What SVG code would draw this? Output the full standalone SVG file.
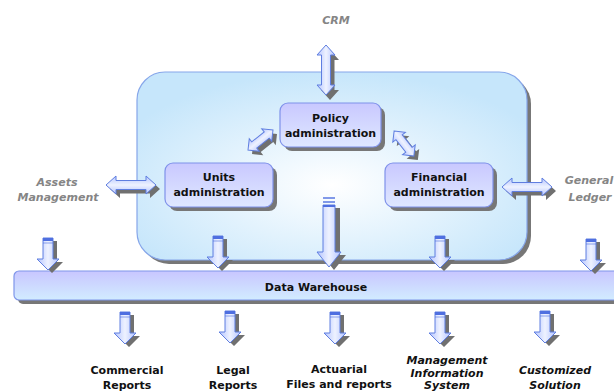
<svg xmlns="http://www.w3.org/2000/svg" xmlns:xlink="http://www.w3.org/1999/xlink" width="614" height="392" viewBox="0 0 614 392">
<style>
.bg{fill:#ffffff}
.shd{fill:#777777}
.box{fill:url(#boxg);stroke:#7f92ea;stroke-width:1.2}
.t{font-family:"DejaVu Sans","Liberation Sans",sans-serif;font-size:11px;font-weight:bold;fill:#111111;text-anchor:middle}
.ti{font-family:"DejaVu Sans","Liberation Sans",sans-serif;font-size:11px;font-weight:bold;font-style:italic;fill:#111111;text-anchor:middle}
.tg{font-family:"DejaVu Sans","Liberation Sans",sans-serif;font-size:11px;font-weight:bold;font-style:italic;fill:#858585;text-anchor:middle}
.sh{fill:#707070;stroke:none}
.ar{fill:url(#agv);stroke:#5f7ee0;stroke-width:1}
.ard{fill:url(#agh);stroke:#5f7ee0;stroke-width:1}
.cap{fill:#4f6fe0}
</style>
<defs>
<linearGradient id="boxg" x1="0" y1="0" x2="0" y2="1">
<stop offset="0" stop-color="#c9c8ff"/>
<stop offset="1" stop-color="#dfe8ff"/>
</linearGradient>
<linearGradient id="dwg" x1="0" y1="0" x2="0" y2="1">
<stop offset="0" stop-color="#c8c6ff"/>
<stop offset="1" stop-color="#d2ecff"/>
</linearGradient>
<radialGradient id="coreg" cx="0.5" cy="0.6" r="0.6">
<stop offset="0" stop-color="#ffffff"/>
<stop offset="1" stop-color="#c6e6fb"/>
</radialGradient>
<linearGradient id="agv" x1="0" y1="0" x2="0" y2="1">
<stop offset="0" stop-color="#b4c4ff"/>
<stop offset="0.5" stop-color="#eef2ff"/>
<stop offset="1" stop-color="#b4c4ff"/>
</linearGradient>
<linearGradient id="agh" x1="0" y1="0" x2="1" y2="0">
<stop offset="0" stop-color="#b4c4ff"/>
<stop offset="0.5" stop-color="#eef2ff"/>
<stop offset="1" stop-color="#b4c4ff"/>
</linearGradient>
<path id="d50" d="M -25 0 L -15 -9 L -15 -4.5 L 15 -4.5 L 15 -9 L 25 0 L 15 9 L 15 4.5 L -15 4.5 L -15 9 Z"/>
<path id="d32" d="M -16 0 L -8 -8 L -8 -4 L 8 -4 L 8 -8 L 16 0 L 8 8 L 8 4 L -8 4 L -8 8 Z"/>
<g id="dn">
<path class="sh" transform="translate(4,3)" d="M -5 -32 H 5 V -11 H 11 L 0 0 L -11 -11 H -5 Z"/>
<path class="ard" d="M -5 -32 H 5 V -11 H 11 L 0 0 L -11 -11 H -5 Z"/>
<rect class="cap" x="-5" y="-32" width="10" height="3"/>
<rect class="cap" x="-5" y="-27.5" width="10" height="1" opacity="0.6"/>
</g>
</defs>
<rect class="bg" x="0" y="0" width="614" height="392"/>

<g id="core">
<rect class="shd" x="141" y="76" width="390" height="188" rx="28"/>
<rect x="137" y="72" width="390" height="188" rx="28" fill="url(#coreg)" stroke="#86a6ea" stroke-width="1.2"/>
</g>

<g id="data-warehouse">
<rect class="shd" x="18" y="275" width="610" height="29" rx="5"/>
<rect x="14" y="271" width="610" height="29" rx="5" fill="url(#dwg)" stroke="#7f96ea" stroke-width="1.2"/>
<text class="t" x="316" y="291">Data Warehouse</text>
</g>

<g id="connectors">
<use href="#d50" class="sh" transform="translate(330,75) rotate(90)"/>
<use href="#d50" class="ar" transform="translate(326,70) rotate(90)"/>
<use href="#d50" class="sh" transform="translate(135,189)"/>
<use href="#d50" class="ar" transform="translate(131,185)"/>
<use href="#d50" class="sh" transform="translate(531,191)"/>
<use href="#d50" class="ar" transform="translate(527,187)"/>
<use href="#d32" class="sh" transform="translate(264.5,144) rotate(-38.7)"/>
<use href="#d32" class="ar" transform="translate(260.5,140) rotate(-38.7)"/>
<use href="#d32" class="sh" transform="translate(408,147.5) rotate(52)"/>
<use href="#d32" class="ar" transform="translate(404,143.5) rotate(52)"/>
<path class="sh" transform="translate(5,3)" d="M 323 205 H 335 V 252 H 341 L 329 267 L 317 252 H 323 Z"/>
<path class="ard" d="M 323 205 H 335 V 252 H 341 L 329 267 L 317 252 H 323 Z"/>
<rect class="cap" x="323" y="197" width="12" height="2" opacity="0.7"/>
<rect class="cap" x="323" y="201" width="12" height="2" opacity="0.7"/>
<rect class="cap" x="323" y="205" width="12" height="2"/>
<use href="#dn" transform="translate(48,270)"/>
<use href="#dn" transform="translate(218,268)"/>
<use href="#dn" transform="translate(440,268)"/>
<use href="#dn" transform="translate(591,271)"/>
<use href="#dn" transform="translate(125,344)"/>
<use href="#dn" transform="translate(230,343)"/>
<use href="#dn" transform="translate(335,344)"/>
<use href="#dn" transform="translate(440,344)"/>
<use href="#dn" transform="translate(545,343)"/>
</g>

<g id="policy">
<rect class="shd" x="284" y="107" width="101" height="44" rx="8"/>
<rect class="box" x="280" y="103" width="101" height="44" rx="8"/>
<text class="t" x="330.5" y="122">Policy</text>
<text class="t" x="330.5" y="137">administration</text>
</g>

<g id="units">
<rect class="shd" x="169" y="167" width="108" height="44" rx="8"/>
<rect class="box" x="165" y="163" width="108" height="44" rx="8"/>
<text class="t" x="219" y="181">Units</text>
<text class="t" x="219" y="196">administration</text>
</g>

<g id="financial">
<rect class="shd" x="389" y="167" width="108" height="44" rx="8"/>
<rect class="box" x="385" y="163" width="108" height="44" rx="8"/>
<text class="t" x="439" y="181">Financial</text>
<text class="t" x="439" y="196">administration</text>
</g>

<g id="crm"><text class="tg" x="336" y="24">CRM</text></g>
<g id="assets"><text class="tg" x="57" y="186">Assets</text><text class="tg" x="58" y="201">Management</text></g>
<g id="general-ledger"><text class="tg" x="589" y="184">General</text><text class="tg" x="590" y="201">Ledger</text></g>

<g id="commercial"><text class="t" x="127" y="374">Commercial</text><text class="t" x="127" y="389">Reports</text></g>
<g id="legal"><text class="t" x="233" y="374">Legal</text><text class="t" x="233" y="389">Reports</text></g>
<g id="actuarial"><text class="t" x="339" y="373">Actuarial</text><text class="t" x="339" y="388">Files and reports</text></g>
<g id="mis"><text class="ti" x="447" y="364">Management</text><text class="ti" x="447" y="376.5">Information</text><text class="ti" x="447" y="389">System</text></g>
<g id="customized"><text class="ti" x="555" y="374">Customized</text><text class="ti" x="555" y="389">Solution</text></g>
</svg>
